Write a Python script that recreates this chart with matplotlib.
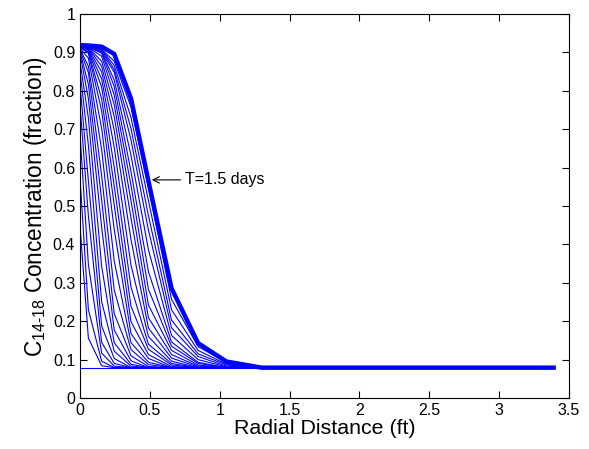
import matplotlib
matplotlib.use('Agg')
import matplotlib.pyplot as plt
import numpy as np

plt.rcParams['font.family'] = ['Liberation Sans', 'DejaVu Sans']
plt.rcParams['mathtext.fontset'] = 'custom'
plt.rcParams['mathtext.rm'] = 'Liberation Sans'

# radial grid nodes (ft)
radial_ft = [0, 0.06, 0.155, 0.245, 0.365, 0.49, 0.655, 0.845, 1.048, 1.30, 3.39]

# initial condition
conc_initial = [0.079] * len(radial_ft)

# intermediate profiles (thin lines), earliest first
profiles = [
    [0.449, 0.156, 0.084, 0.079, 0.079, 0.079, 0.079, 0.079, 0.079, 0.079, 0.079],
    [0.575, 0.230, 0.096, 0.079, 0.079, 0.079, 0.079, 0.079, 0.079, 0.079, 0.079],
    [0.690, 0.348, 0.117, 0.083, 0.079, 0.079, 0.079, 0.079, 0.079, 0.079, 0.079],
    [0.764, 0.475, 0.145, 0.090, 0.079, 0.079, 0.079, 0.079, 0.079, 0.079, 0.079],
    [0.817, 0.566, 0.188, 0.103, 0.079, 0.079, 0.079, 0.079, 0.079, 0.079, 0.079],
    [0.852, 0.659, 0.251, 0.122, 0.083, 0.079, 0.079, 0.079, 0.079, 0.079, 0.079],
    [0.877, 0.729, 0.343, 0.144, 0.088, 0.079, 0.079, 0.079, 0.079, 0.079, 0.079],
    [0.898, 0.780, 0.445, 0.177, 0.097, 0.079, 0.079, 0.079, 0.079, 0.079, 0.079],
    [0.902, 0.817, 0.516, 0.220, 0.110, 0.082, 0.079, 0.079, 0.079, 0.079, 0.079],
    [0.906, 0.848, 0.579, 0.281, 0.126, 0.087, 0.079, 0.079, 0.079, 0.079, 0.079],
    [0.909, 0.864, 0.647, 0.357, 0.144, 0.093, 0.079, 0.079, 0.079, 0.079, 0.079],
    [0.911, 0.885, 0.702, 0.439, 0.168, 0.103, 0.079, 0.079, 0.079, 0.079, 0.079],
    [0.913, 0.898, 0.748, 0.502, 0.199, 0.113, 0.082, 0.079, 0.079, 0.079, 0.079],
    [0.914, 0.901, 0.779, 0.552, 0.239, 0.127, 0.086, 0.079, 0.079, 0.079, 0.079],
    [0.915, 0.905, 0.810, 0.601, 0.289, 0.140, 0.090, 0.079, 0.079, 0.079, 0.079],
    [0.916, 0.907, 0.831, 0.653, 0.346, 0.160, 0.096, 0.079, 0.079, 0.079, 0.079],
    [0.916, 0.909, 0.849, 0.697, 0.413, 0.182, 0.104, 0.081, 0.079, 0.079, 0.079],
    [0.916, 0.911, 0.864, 0.733, 0.469, 0.209, 0.113, 0.083, 0.079, 0.079, 0.079],
    [0.917, 0.912, 0.877, 0.764, 0.514, 0.242, 0.124, 0.086, 0.079, 0.079, 0.079],
    [0.917, 0.913, 0.890, 0.789, 0.554, 0.283, 0.135, 0.090, 0.079, 0.079, 0.079],
    [0.918, 0.914, 0.898, 0.811, 0.590, 0.329, 0.146, 0.093, 0.079, 0.079, 0.079],
    [0.918, 0.915, 0.901, 0.828, 0.632, 0.386, 0.163, 0.100, 0.081, 0.079, 0.079],
    [0.918, 0.915, 0.902, 0.848, 0.672, 0.437, 0.183, 0.108, 0.083, 0.079, 0.079],
    [0.918, 0.916, 0.906, 0.856, 0.702, 0.475, 0.203, 0.115, 0.086, 0.079, 0.079],
    [0.918, 0.916, 0.907, 0.866, 0.731, 0.514, 0.230, 0.124, 0.088, 0.079, 0.079],
    [0.919, 0.917, 0.908, 0.877, 0.758, 0.548, 0.257, 0.134, 0.092, 0.079, 0.079],
]

# final profile, T = 1.5 days (thick line)
conc_final = [0.919, 0.918, 0.915, 0.896, 0.780, 0.565, 0.286, 0.143, 0.095, 0.079, 0.079]

fig = plt.figure(figsize=(5.89, 4.49), dpi=100)
ax = fig.add_axes([0.1358, 0.1136, 0.8302, 0.8552])

ax.plot(radial_ft, conc_initial, color='b', lw=0.8)
for p in profiles:
    ax.plot(radial_ft, p, color='b', lw=0.8)
ax.plot(radial_ft, conc_final, color='b', lw=3.2)

ax.annotate('T=1.5 days', xy=(0.514, 0.568), xytext=(0.75, 0.568),
            fontsize=11.5, va='center', ha='left',
            arrowprops=dict(arrowstyle='->', color='k', lw=0.8, shrinkA=1, shrinkB=0))

ax.set_xlim(0, 3.5)
ax.set_ylim(0, 1)
ax.set_xticks(np.arange(0, 3.51, 0.5))
ax.set_xticklabels(['0', '0.5', '1', '1.5', '2', '2.5', '3', '3.5'])
ax.set_yticks(np.arange(0, 1.01, 0.1))
ax.set_yticklabels(['0', '0.1', '0.2', '0.3', '0.4', '0.5', '0.6', '0.7', '0.8', '0.9', '1'])
ax.tick_params(direction='in', top=True, right=True, labelsize=11.5, length=5, width=0.8)
for s in ax.spines.values():
    s.set_linewidth(0.8)

ax.set_xlabel('Radial Distance (ft)', fontsize=15.4, labelpad=1)
ax.set_ylabel(r'C$_{\mathregular{14}\text{-}\mathregular{18}}$ Concentration (fraction)',
              fontsize=16.3, labelpad=3)

fig.savefig('out.png', dpi=100)
